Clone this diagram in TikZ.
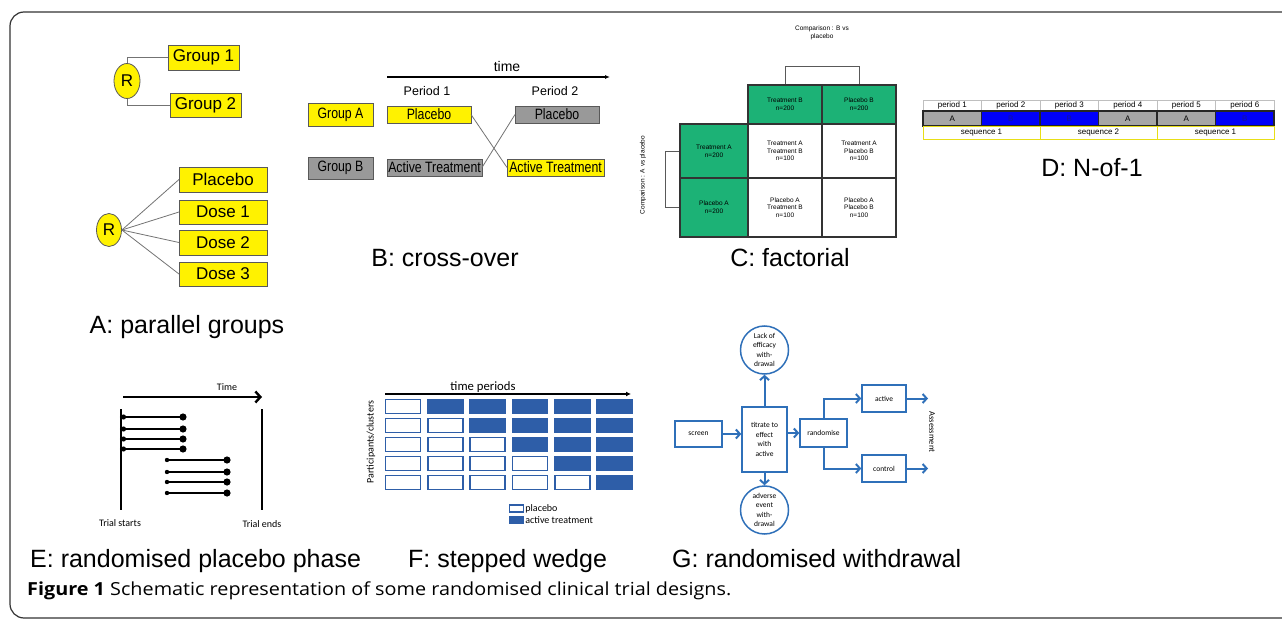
\documentclass[tikz,border=0pt]{standalone}
\usepackage{fontspec}
\setmainfont{Liberation Sans}
\newfontfamily\calfont{Carlito}
\newfontfamily\capfont{Open Sans}
\usetikzlibrary{arrows.meta,shapes.geometric}
\definecolor{cgreen}{RGB}{28,178,118}
\definecolor{fblue}{RGB}{46,94,168}
\definecolor{gblue}{RGB}{47,112,185}
\definecolor{dblue}{RGB}{0,0,250}
\definecolor{dtext}{RGB}{20,20,150}
\newcommand\fsz[2]{\fontsize{#1}{#2}\selectfont}
\newcommand\sqz[1]{\scalebox{0.82}[1]{#1}}
\begin{document}
\begin{tikzpicture}[x=1pt,y=-1pt,
  bx/.style={draw=black!65, line width=0.8, inner sep=0pt, outer sep=0pt},
  ybx/.style={bx, fill=yellow},
  gbx/.style={bx, fill=black!40},
  rcirc/.style={ellipse, draw=black!65, fill=yellow, line width=0.8, inner sep=0pt, font=\fsz{17}{20}},
  conn/.style={draw=black!55, line width=0.8},
  lab/.style={font=\fsz{25}{30}, inner sep=0pt},
  cell/.style={draw=black!80, line width=1.1, inner sep=0pt, align=center, font=\fsz{6.5}{7.7}},
  gcell/.style={cell, fill=cgreen},
  pcell/.style={draw=black!25, line width=0.6, minimum width=58.5, minimum height=11, inner sep=0pt, font=\fsz{8}{9}},
  Acell/.style={draw=black!85, line width=1.6, fill=black!35, minimum width=58.5, minimum height=15, inner sep=0pt, font=\fsz{8}{9}},
  Bcell/.style={draw=black!85, line width=1.6, fill=dblue, text=dtext, minimum width=58.5, minimum height=15, inner sep=0pt, font=\fsz{8}{9}},
  qcell/.style={draw=yellow!90!black, line width=0.8, minimum width=117, minimum height=13, inner sep=0pt, font=\fsz{8}{9}},
  eline/.style={line width=2.3, line cap=round},
  etext/.style={font=\calfont\fsz{10}{12}, inner sep=0pt},
  fpla/.style={draw=fblue, line width=1.8, fill=white, minimum width=35, minimum height=14, inner sep=0pt},
  fact/.style={draw=fblue, line width=1.8, fill=fblue, minimum width=35, minimum height=14, inner sep=0pt},
  gbox/.style={draw=gblue, line width=1.5, fill=white, align=center, inner sep=0pt, font=\calfont\fsz{7.5}{9.5}},
  gcirc/.style={circle, draw=gblue, line width=1.5, fill=white, minimum size=48, inner sep=0pt, align=center, font=\calfont\fsz{7.5}{9.5}},
  garr/.style={draw=gblue, line width=2, -{Straight Barb[length=4pt,width=9pt]}}
]
\useasboundingbox (0,0) rectangle (1282,620);
\begin{scope}
  \clip (0,0) rectangle (1282,620);
  \draw[line width=1.2, black!80, rounded corners=14] (10,12) rectangle (1300,618);
\end{scope}

% ---------- A: parallel groups ----------
\node[rcirc, minimum width=26, minimum height=35] (r1) at (127,81) {R};
\node[ybx, minimum width=71, minimum height=25, font=\fsz{17}{20}] (g1) at (203.5,57.5) {Group 1};
\node[ybx, minimum width=71, minimum height=24, font=\fsz{17}{20}] (g2) at (205.5,105) {Group 2};
\draw[conn] (r1.north) |- (g1.west);
\draw[conn] (r1.south) |- (g2.west);
\node[rcirc, minimum width=25, minimum height=33] (r2) at (109,230) {R};
\node[ybx, minimum width=88, minimum height=25, font=\fsz{17}{20}] (pl) at (223,179.5) {Placebo};
\node[ybx, minimum width=88, minimum height=24, font=\fsz{17}{20}] (d1) at (223,212) {Dose 1};
\node[ybx, minimum width=88, minimum height=25, font=\fsz{17}{20}] (d2) at (223,242.5) {Dose 2};
\node[ybx, minimum width=88, minimum height=24, font=\fsz{17}{20}] (d3) at (223,274) {Dose 3};
\foreach \b in {pl,d1,d2,d3} \draw[conn] (r2.east) -- (\b.west);
\node[lab, anchor=base] (la) at (187,333) {A: parallel groups};

% ---------- B: cross-over ----------
\coordinate (ts) at (387,77);
\coordinate (te) at (610,77);
\draw[line width=1.1, -{Latex[length=5pt,width=4pt]}] (ts) -- (te);
\node[font=\fsz{14}{16}] (btime) at (507,66) {time};
\node[font=\fsz{12.5}{15}] (per1) at (427,91) {Period 1};
\node[font=\fsz{12.5}{15}] (per2) at (555,91) {Period 2};
\node[ybx, minimum width=65, minimum height=23, font=\fsz{15}{17}] (ga) at (340.5,114.5) {\sqz{Group A}};
\node[ybx, minimum width=84, minimum height=17, font=\fsz{15}{17}] (py) at (429,114.5) {\sqz{Placebo}};
\node[gbx, minimum width=84, minimum height=17, font=\fsz{15}{17}] (pg) at (557,114.5) {\sqz{Placebo}};
\node[gbx, minimum width=65, minimum height=22, font=\fsz{15}{17}] (gb) at (340.5,168) {\sqz{Group B}};
\node[gbx, minimum width=95, minimum height=17, font=\fsz{15}{17}] (ag) at (434.5,167.5) {\sqz{Active Treatment}};
\node[ybx, minimum width=97, minimum height=17, font=\fsz{15}{17}] (ay) at (555.5,167.5) {\sqz{Active Treatment}};
\draw[conn] (py.east) -- (ay.west);
\draw[conn] (ag.east) -- (pg.west);
\node[lab, anchor=base] (lb) at (445,267) {B: cross-over};

% ---------- C: factorial ----------
\node[gcell, minimum width=74, minimum height=39] (tb) at (785,104.5) {Treatment B\\n=200};
\node[gcell, minimum width=74, minimum height=39] (pb) at (859,104.5) {Placebo B\\n=200};
\node[gcell, minimum width=68, minimum height=54] (ta) at (714,151) {Treatment A\\n=200};
\node[cell, minimum width=74, minimum height=54] (c11) at (785,151) {Treatment A\\Treatment B\\n=100};
\node[cell, minimum width=74, minimum height=54] (c12) at (859,151) {Treatment A\\Placebo B\\n=100};
\node[gcell, minimum width=68, minimum height=59] (pa) at (714,207.5) {Placebo A\\n=200};
\node[cell, minimum width=74, minimum height=59] (c21) at (785,207.5) {Placebo A\\Treatment B\\n=100};
\node[cell, minimum width=74, minimum height=59] (c22) at (859,207.5) {Placebo A\\Placebo B\\n=100};
\draw[conn, draw=black!65] (tb.north) -- ++(0,-18) -| (pb.north);
\draw[conn, draw=black!65] (ta.west) -- ++(-14,0) |- (pa.west);
\node[align=center, font=\fsz{6.5}{8}, inner sep=0pt] (cmpb) at (822,33) {Comparison : B vs\\placebo};
\node[rotate=90, font=\fsz{6.5}{8}, inner sep=0pt] (cmpa) at (643,175) {Comparison : A vs placebo};
\node[lab, anchor=base] (lc) at (790,267) {C: factorial};

% ---------- D: N-of-1 ----------
\foreach \i in {1,...,6} \node[pcell] (p\i) at ({923+58.5*(\i-0.5)},105.5) {period \i};
\foreach \i/\t in {1/A,2/B,3/B,4/A,5/A,6/B} \node[\t cell] (s\i) at ({923+58.5*(\i-0.5)},118.5) {\t};
\node[qcell] (q1) at (981.5,132.5) {sequence 1};
\node[qcell] (q2) at (1098.5,132.5) {sequence 2};
\node[qcell] (q3) at (1215.5,132.5) {sequence 1};
\node[lab, anchor=base] (ld) at (1092,177) {D: N-of-1};

% ---------- E: randomised placebo phase ----------
\node[etext] (etime) at (227,387) {Time};
\coordinate (ea) at (123,397);
\coordinate (eb) at (262,397);
\draw[line width=2.4, -{Straight Barb[length=5pt,width=11pt]}] (ea) -- (eb);
\coordinate (es1) at (121,409); \coordinate (es2) at (121,510);
\coordinate (ee1) at (262,409); \coordinate (ee2) at (262,510);
\draw[line width=2.6] (es1) -- (es2);
\draw[line width=2.6] (ee1) -- (ee2);
\foreach \y in {417,429,439,449} {
  \draw[eline] (121,\y) -- (183,\y);
  \fill (183,\y) circle (3.6);
  \fill (123.5,\y) circle (2.6);
}
\foreach \y in {460,472,482,493} {
  \draw[eline] (167,\y) -- (227,\y);
  \fill (227,\y) circle (3.6);
  \fill (167,\y) circle (2.2);
}
\node[etext] (tst) at (120,523) {Trial starts};
\node[etext] (ten) at (262,524) {Trial ends};

% ---------- F: stepped wedge ----------
\foreach \r in {0,...,4} {
  \foreach \c in {0,...,5} {
    \ifnum\c>\r \def\fst{fact}\else\def\fst{fpla}\fi
    \node[\fst] (f\r\c) at ({403+42.3*\c},{406.5+19*\r}) {};
  }
}
\coordinate (fa) at (385,394);
\coordinate (fb) at (631,394);
\draw[line width=1.3, -{Latex[length=5pt,width=5pt]}] (fa) -- (fb);
\node[font=\calfont\fsz{12.7}{15}, inner sep=0pt] (ftp) at (483,387) {time periods};
\node[rotate=90, font=\calfont\fsz{10}{12}, inner sep=0pt] (fpc) at (371,442) {Participants/clusters};
\node[draw=fblue, line width=1.5, fill=white, minimum width=14, minimum height=7, inner sep=0pt] (lg1) at (516.5,508.5) {};
\node[draw=fblue, line width=1.5, fill=fblue, minimum width=14, minimum height=6, inner sep=0pt] (lg2) at (516.5,520) {};
\node[anchor=west, font=\calfont\fsz{10}{12}, inner sep=1pt] (lt1) at (lg1.east) {placebo};
\node[anchor=west, font=\calfont\fsz{10}{12}, inner sep=1pt] (lt2) at (lg2.east) {active treatment};

% ---------- G: randomised withdrawal ----------
\node[gbox, minimum width=47, minimum height=26] (scr) at (698.5,434) {screen};
\node[gbox, minimum width=45, minimum height=65] (tit) at (764.5,439.5) {titrate to\\effect\\with\\active};
\node[gcirc] (lack) at (764.5,350) {Lack of\\efficacy\\with-\\drawal};
\node[gcirc] (adv) at (764.5,510) {adverse\\event\\with-\\drawal};
\node[gbox, minimum width=47, minimum height=28] (rnd) at (823.5,433) {randomise};
\node[gbox, minimum width=44, minimum height=27] (act) at (884,398.5) {active};
\node[gbox, minimum width=44, minimum height=27] (ctl) at (884,468.5) {control};
\draw[garr] (scr.east) -- (scr.east -| tit.west);
\draw[garr] (tit.north) -- (lack.south);
\draw[garr] (tit.south) -- (adv.north);
\draw[garr] (rnd.west -| tit.east) -- (rnd.west);
\draw[garr] (rnd.north) |- (act.west);
\draw[garr] (rnd.south) |- (ctl.west);
\coordinate (ao) at (928,398.5);
\coordinate (co) at (928,468.5);
\draw[garr] (act.east) -- (ao);
\draw[garr] (ctl.east) -- (co);
\node[rotate=-90, font=\calfont\fsz{8.5}{10}, inner sep=0pt] (asm) at (932,432) {Assessment};

% ---------- bottom labels and caption ----------
\node[lab, anchor=base west] (le) at (30,567) {E: randomised placebo phase};
\node[lab, anchor=base west] (lf) at (408,567) {F: stepped wedge};
\node[lab, anchor=base west] (lg) at (672,567) {G: randomised withdrawal};
\node[anchor=base west, font=\capfont\fsz{18}{20}, inner sep=0pt] (cap) at (27,595) {\scalebox{1.1}[1]{\textbf{Figure 1} Schematic representation of some randomised clinical trial designs.}};
\end{tikzpicture}
\end{document}
